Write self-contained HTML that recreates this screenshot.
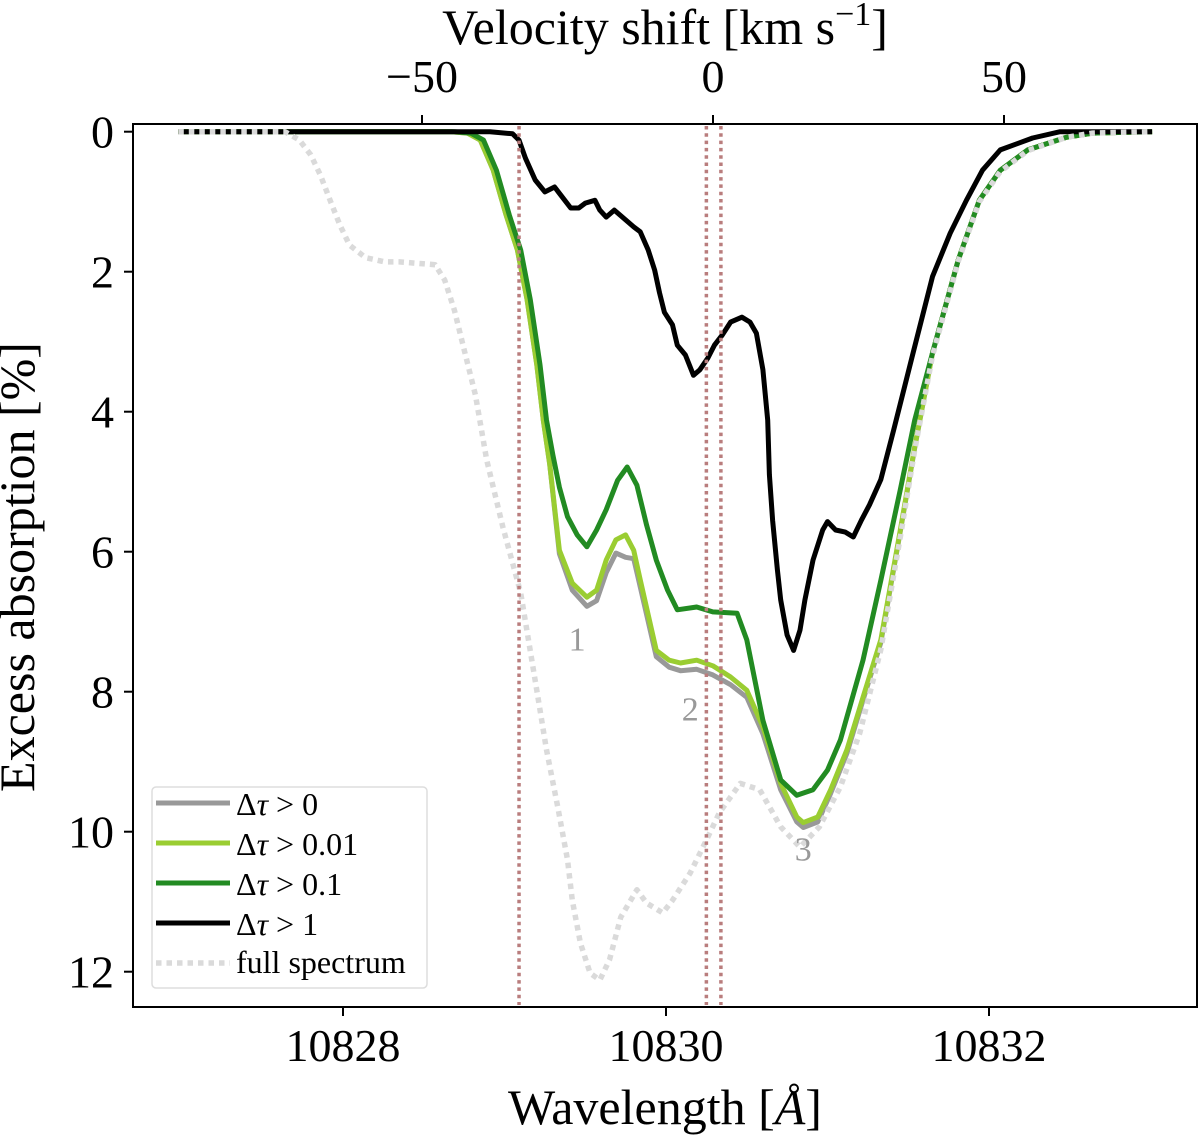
<!DOCTYPE html>
<html><head><meta charset="utf-8"><style>
html,body{margin:0;padding:0;background:#fff;}
svg{display:block;font-family:"Liberation Serif",serif;}
</style></head><body>
<svg id="chart" width="1200" height="1148" viewBox="0 0 1200 1148">
<g id="plot"></g>
<rect x="133" y="124" width="1064" height="883" fill="none" stroke="#000" stroke-width="2"/>
<g id="axes"></g>
<text x="665" y="1124" font-size="50" text-anchor="middle">Wavelength [<tspan font-style="italic">Å</tspan>]</text>
<text x="665" y="44" font-size="50" text-anchor="middle">Velocity shift [km s<tspan dy="-19" font-size="34">−1</tspan><tspan dy="19">]</tspan></text>
<text transform="translate(34,567) rotate(-90)" font-size="50" text-anchor="middle">Excess absorption [%]</text>
<g>
<rect x="152" y="787" width="275" height="201" rx="4" fill="#fff" fill-opacity="0.8" stroke="#ddd" stroke-width="1.5"/>
<g font-size="32">
<line x1="156" y1="803" x2="230" y2="803" stroke="#999" stroke-width="5"/>
<text x="236" y="815">Δ<tspan font-style="italic">τ</tspan> &gt; 0</text>
<line x1="156" y1="843" x2="230" y2="843" stroke="#9acd32" stroke-width="5"/>
<text x="236" y="855">Δ<tspan font-style="italic">τ</tspan> &gt; 0.01</text>
<line x1="156" y1="883" x2="230" y2="883" stroke="#228b22" stroke-width="5"/>
<text x="236" y="895">Δ<tspan font-style="italic">τ</tspan> &gt; 0.1</text>
<line x1="156" y1="923" x2="230" y2="923" stroke="#000" stroke-width="5"/>
<text x="236" y="935">Δ<tspan font-style="italic">τ</tspan> &gt; 1</text>
<line x1="156" y1="963" x2="230" y2="963" stroke="#dadada" stroke-width="5.5" stroke-dasharray="5.5 5"/>
<text x="236" y="973">full spectrum</text>
</g></g>
</svg>
<script>
const xTicks=[10828,10830,10832];
const yTicks=[0,2,4,6,8,10,12];
const vTicks=[-50,0,50];
const lineCenters=[10829.09,10830.25,10830.34];
const blackW=[10826.98,10828.91,10829.05,10829.09,10829.13,10829.19,10829.25,10829.31,10829.34,10829.41,10829.46,10829.50,10829.56,10829.59,10829.63,10829.68,10829.75,10829.80,10829.84,10829.89,10829.93,10829.96,10829.99,10830.04,10830.07,10830.12,10830.17,10830.21,10830.26,10830.30,10830.35,10830.40,10830.47,10830.52,10830.56,10830.60,10830.63,10830.64,10830.66,10830.69,10830.71,10830.75,10830.79,10830.83,10830.86,10830.91,10830.97,10831.00,10831.05,10831.11,10831.16,10831.21,10831.26,10831.33,10831.41,10831.53,10831.65,10831.76,10831.86,10831.96,10832.07,10832.27,10832.44,10833.01];
const blackA=[0,0,0.03,0.12,0.38,0.69,0.86,0.79,0.88,1.09,1.09,1.02,0.98,1.12,1.22,1.12,1.26,1.36,1.43,1.69,1.98,2.30,2.58,2.76,3.05,3.19,3.48,3.40,3.23,3.05,2.90,2.72,2.65,2.72,2.88,3.40,4.12,4.90,5.55,6.26,6.69,7.19,7.41,7.12,6.69,6.12,5.69,5.57,5.69,5.72,5.79,5.55,5.33,4.97,4.26,3.16,2.07,1.45,0.98,0.55,0.26,0.09,0.0,0];
const darkW=[10826.98,10828.69,10828.79,10828.87,10828.95,10829.03,10829.10,10829.16,10829.22,10829.26,10829.30,10829.34,10829.39,10829.45,10829.51,10829.57,10829.63,10829.70,10829.76,10829.82,10829.88,10829.94,10830.01,10830.07,10830.19,10830.29,10830.44,10830.50,10830.60,10830.71,10830.81,10830.91,10831.00,10831.08,10831.22,10831.33,10831.45,10831.54,10831.65,10831.81,10831.94,10832.07,10832.24,10832.48,10832.64,10833.01];
const darkA=[0,0,0.02,0.12,0.55,1.19,1.69,2.40,3.33,4.12,4.62,5.08,5.50,5.76,5.93,5.69,5.40,4.98,4.79,5.05,5.62,6.12,6.55,6.83,6.79,6.86,6.88,7.26,8.41,9.26,9.48,9.40,9.12,8.69,7.55,6.41,5.12,4.12,3.16,1.83,0.98,0.55,0.26,0.08,0.02,0];
const lightW=[10826.98,10828.67,10828.77,10828.85,10828.93,10829.01,10829.08,10829.14,10829.20,10829.24,10829.28,10829.34,10829.42,10829.51,10829.57,10829.63,10829.69,10829.75,10829.80,10829.84,10829.94,10830.02,10830.09,10830.19,10830.29,10830.40,10830.50,10830.60,10830.71,10830.81,10830.85,10830.94,10831.02,10831.12,10831.22,10831.33,10831.45,10831.54,10831.65,10831.81,10831.94,10832.07,10832.24,10832.48,10832.64,10833.01];
const lightA=[0,0,0.02,0.12,0.55,1.19,1.69,2.40,3.33,4.12,4.75,5.98,6.45,6.65,6.55,6.12,5.83,5.76,5.98,6.40,7.41,7.55,7.59,7.55,7.63,7.79,7.98,8.50,9.31,9.79,9.87,9.79,9.40,8.83,8.08,7.26,5.70,4.50,3.16,1.83,0.98,0.55,0.26,0.08,0.02,0];
const greyA=[0,0,0.02,0.12,0.55,1.19,1.69,2.40,3.33,4.12,4.75,6.03,6.55,6.78,6.70,6.30,6.02,6.08,6.10,6.50,7.50,7.65,7.70,7.68,7.76,7.90,8.08,8.60,9.40,9.86,9.94,9.86,9.45,8.88,8.12,7.30,5.72,4.52,3.16,1.83,0.98,0.55,0.26,0.08,0.02,0];
const fullW=[10826.98,10827.64,10827.73,10827.80,10827.86,10827.92,10827.98,10828.04,10828.14,10828.26,10828.35,10828.57,10828.63,10828.69,10828.74,10828.82,10828.89,10828.99,10829.10,10829.20,10829.26,10829.33,10829.39,10829.42,10829.47,10829.53,10829.59,10829.65,10829.72,10829.82,10829.88,10829.98,10830.04,10830.15,10830.25,10830.33,10830.46,10830.58,10830.71,10830.83,10830.95,10831.08,10831.20,10831.33,10831.45,10831.54,10831.65,10831.81,10831.94,10832.07,10832.24,10832.48,10832.64,10833.01];
const fullA=[0,0,0.12,0.33,0.62,0.98,1.33,1.62,1.80,1.86,1.86,1.90,2.12,2.55,3.02,3.76,4.69,5.65,6.59,7.98,8.83,9.65,10.40,10.98,11.59,12.02,12.12,11.83,11.22,10.83,11.02,11.16,10.98,10.59,10.12,9.73,9.31,9.40,9.93,10.22,9.93,9.36,8.59,7.40,5.80,4.55,3.20,1.85,1.0,0.57,0.27,0.08,0.02,0];
const annotLabels=["1","2","3"];
const annotW=[10829.45,10830.15,10830.85];
const annotA=[7.1,8.1,10.1];

const NS="http://www.w3.org/2000/svg";
const X=w=>343+(w-10828)*161.5;
const Y=a=>131.7+a*70;
const V=v=>713+v*5.82;
const plot=document.getElementById('plot');
const axes=document.getElementById('axes');
function mk(tag,attrs,parent){const e=document.createElementNS(NS,tag);for(const k in attrs)e.setAttribute(k,attrs[k]);parent.appendChild(e);return e;}
function series(W,A,color,width,dash,name){
  const d=W.map((w,i)=>(i?'L':'M')+X(w).toFixed(1)+','+Y(A[i]).toFixed(1)).join(' ');
  const p=mk('path',{d:d,fill:'none',stroke:color,'stroke-width':width,'stroke-linejoin':'round'},plot);
  if(dash)p.setAttribute('stroke-dasharray',dash);
  
  
}
series(lightW,greyA,'#999999',5,null,'series-dtau-0');
series(lightW,lightA,'#9acd32',5,null,'series-dtau-0.01');
series(darkW,darkA,'#228b22',5,null,'series-dtau-0.1');
series(blackW,blackA,'#000000',5,null,'series-dtau-1');
series(fullW,fullA,'#dadada',5.5,'5.5 5','series-full-spectrum');
lineCenters.forEach(w=>{
  const l=mk('line',{x1:X(w),x2:X(w),y1:126,y2:1005,stroke:'#b97d7d','stroke-width':3.5,'stroke-dasharray':'3.5 3.8'},plot);
  
  
});
annotLabels.forEach((t,i)=>{
  const e=mk('text',{x:X(annotW[i]),y:Y(annotA[i])+22,'font-size':34,fill:'#999','text-anchor':'middle'},plot);
  e.textContent=t;
  
  
});
xTicks.forEach(w=>{
  const l=mk('line',{x1:X(w),x2:X(w),y1:1007,y2:1016,stroke:'#000','stroke-width':2},axes);
  
  
  const t=mk('text',{x:X(w),y:1061,'font-size':46,'text-anchor':'middle'},axes);
  t.textContent=w;
  
  
});
yTicks.forEach(a=>{
  const l=mk('line',{x1:124,x2:133,y1:Y(a),y2:Y(a),stroke:'#000','stroke-width':2},axes);
  
  
  const t=mk('text',{x:114,y:Y(a)+16,'font-size':46,'text-anchor':'end'},axes);
  t.textContent=a;
  
  
});
vTicks.forEach(v=>{
  const l=mk('line',{x1:V(v),x2:V(v),y1:115,y2:124,stroke:'#000','stroke-width':2},axes);
  
  
  const t=mk('text',{x:V(v),y:92,'font-size':46,'text-anchor':'middle'},axes);
  t.textContent=v<0?'−'+Math.abs(v):String(v);
  
  
});
</script>
</body></html>
